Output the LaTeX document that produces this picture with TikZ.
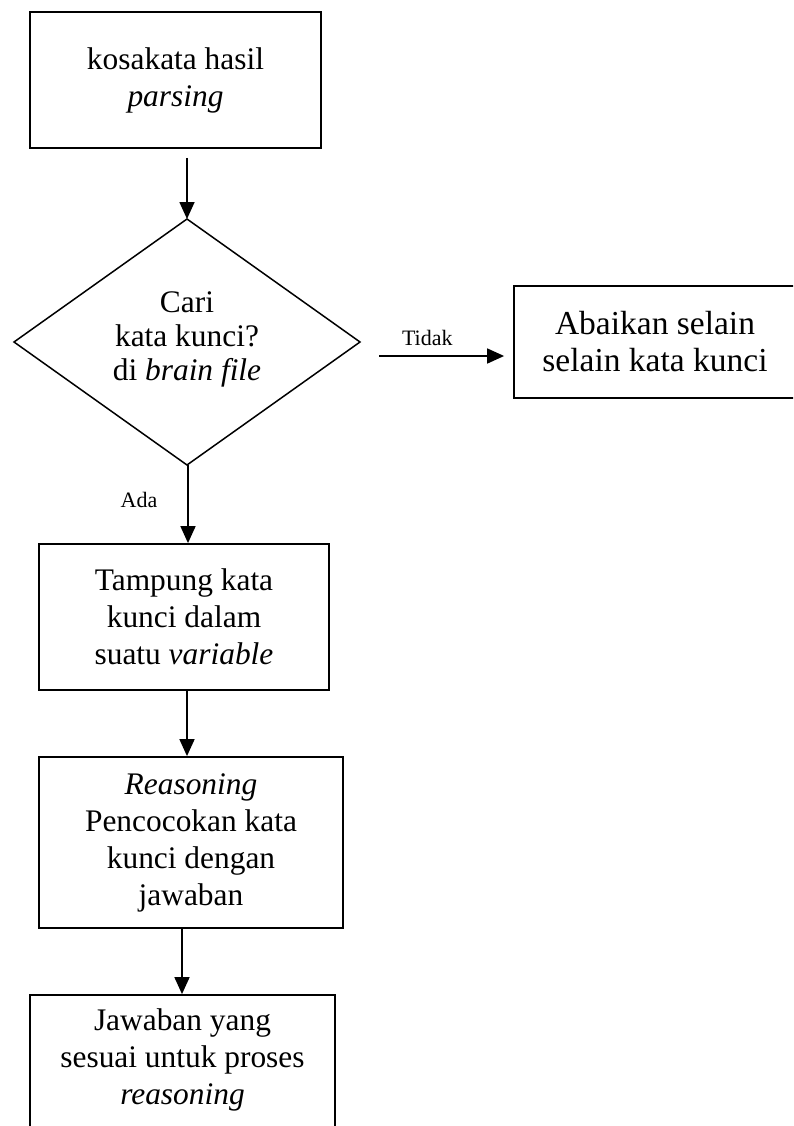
\documentclass[tikz,border=0pt]{standalone}
\usepackage{fontspec}
\setmainfont{Liberation Serif}
\usetikzlibrary{arrows.meta,shapes.geometric}
\begin{document}
\begin{tikzpicture}[x=1pt,y=-1pt,
  box/.style={draw,line width=1.8pt,inner sep=0pt,align=center,
    font=\fontsize{31.4}{37}\selectfont},
  txt/.style={inner sep=0pt,align=center,font=\fontsize{31.4}{37}\selectfont},
  lbl/.style={inner sep=0pt,font=\fontsize{22}{26}\selectfont},
  flow/.style={line width=1.7pt,-{Triangle[length=17pt,width=15pt]}}]
\useasboundingbox (0,0) rectangle (793,1126);
\clip (0,0) rectangle (793,1126);

% process boxes
\node[box,minimum width=291pt,minimum height=136pt] (b1) at (175.5,80)
  {kosakata hasil\\\textit{parsing}};
\node[box,minimum width=290pt,minimum height=146pt] (b3) at (184,617)
  {Tampung kata\\kunci dalam\\suatu \textit{variable}};
\node[box,minimum width=304pt,minimum height=171pt] (b4) at (191,842.5)
  {\textit{Reasoning}\\Pencocokan kata\\kunci dengan\\jawaban};
\node[box,minimum width=305pt,minimum height=150pt] (b5) at (182.5,1070) {};
\node[txt] (b5t) at (182.5,1060)
  {Jawaban yang\\sesuai untuk proses\\\textit{reasoning}};
\node[box,minimum width=282pt,minimum height=112pt,
  font=\fontsize{33.5}{37}\selectfont] (ab) at (655,342)
  {Abaikan selain\\selain kata kunci};

% decision
\draw[line width=1.5pt] (187,219) coordinate (dt) -- (360,342) coordinate (dr)
  -- (187,465) coordinate (db) -- (14,342) coordinate (dl) -- cycle;
\node[txt,font=\fontsize{31.4}{34}\selectfont] (dtext) at (187,339)
  {Cari\\kata kunci?\\di \textit{brain file}};

% connectors
\draw[flow,shorten <=9pt] (b1.south -| dt) -- (dt);
\coordinate (t0) at (379,356);
\draw[flow,shorten >=9pt] (t0) -- (ab.west |- t0)
  node[lbl,pos=0.36,above=9pt] (tidak) {Tidak};
\draw[flow] (db) ++(1,0) coordinate (db1) -- (db1 |- b3.north);
\node[lbl] (ada) at (139,500) {Ada};
\draw[flow] (187,690) coordinate (c3) -- (c3 |- b4.north);
\draw[flow] (182,928) coordinate (c4) -- (c4 |- b5.north);
\end{tikzpicture}
\end{document}
